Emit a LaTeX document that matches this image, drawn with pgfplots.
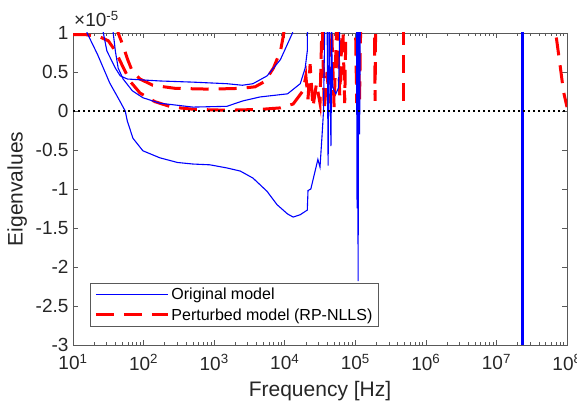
\documentclass[border=0pt]{standalone}
\usepackage{fontspec}
\setmainfont{Liberation Sans}
\usepackage{pgfplots}
\pgfplotsset{compat=1.18}
\definecolor{mblue}{rgb}{0,0,1}
\definecolor{mred}{rgb}{1,0,0}
\definecolor{axgray}{gray}{0.35}
\definecolor{txtgray}{gray}{0.15}
\begin{document}
\begin{tikzpicture}
\begin{axis}[name=ax, xmode=log, scale only axis, width=494pt, height=312pt,
  xmin=10, xmax=1e8, ymin=-3, ymax=1,
  xtick={10,100,1000,10000,100000,1000000,10000000,100000000},
  xticklabels={10\textsuperscript{1},10\textsuperscript{2},10\textsuperscript{3},10\textsuperscript{4},10\textsuperscript{5},10\textsuperscript{6},10\textsuperscript{7},10\textsuperscript{8}},
  minor xtick={20,30,40,50,60,70,80,90,200,300,400,500,600,700,800,900,2000,3000,4000,5000,6000,7000,8000,9000,20000,30000,40000,50000,60000,70000,80000,90000,200000,300000,400000,500000,600000,700000,800000,900000,2000000,3000000,4000000,5000000,6000000,7000000,8000000,9000000,20000000,30000000,40000000,50000000,60000000,70000000,80000000,90000000},
  ytick={-3,-2.5,-2,-1.5,-1,-0.5,0,0.5,1},
  yticklabels={-3,-2.5,-2,-1.5,-1,-0.5,0,0.5,1},
  tick align=inside, major tick length=5pt, minor tick length=3pt,
  axis line style={axgray, line width=0.8pt},
  every tick/.style={axgray, line width=0.7pt},
  tick label style={font=\fontsize{19}{22}\selectfont, text=txtgray},
  xticklabel style={yshift=-6pt},
  yticklabel style={xshift=-1pt},
  xlabel={Frequency [Hz]}, ylabel={Eigenvalues},
  label style={font=\fontsize{21}{25}\selectfont, text=txtgray},
  xlabel style={at={(axis description cs:0.5,-0.147)}, anchor=center},
  ylabel style={at={(axis description cs:-0.113,0.5)}, anchor=center},
  legend style={at={(axis description cs:0.0345,0.058)}, anchor=south west,
    draw=axgray, line width=0.8pt, fill=white, text=black,
    font=\fontsize{16}{19}\selectfont, inner xsep=4pt, inner ysep=3pt,
    row sep=3pt, cells={anchor=west}},
  legend image code/.code={\draw[#1] (0pt,0pt) -- (72pt,0pt);},
]
\addlegendimage{mblue, line width=1.1pt}
\addlegendentry{Original model}
\addlegendimage{mred, line width=3pt, dash pattern=on 18pt off 10pt}
\addlegendentry{Perturbed model (RP-NLLS)}

% ---------------- perturbed model (red dashed) ----------------
\addplot[mred, line width=3pt, dash pattern=on 18pt off 10pt, forget plot] coordinates {
(42,1.1)(43.65,1.0)(50.12,0.86)(58.88,0.67)(69.18,0.51)(89.13,0.41)(134.9,0.33)(281.8,0.29)(871,0.28)(2344,0.29)(3802,0.31)(5248,0.38)(6918,0.55)(8710,0.77)(9550,0.96)(10000,1.1)};
\addplot[mred, line width=3pt, dash pattern=on 18pt off 10pt, forget plot] coordinates {
(10,0.98)(14.79,0.98)(23.99,0.95)(31.62,0.90)(39.81,0.77)(50.12,0.58)(64.57,0.38)(89.13,0.23)(144.5,0.12)(251.2,0.05)(537,0.02)(1514,0.01)(4467,0.02)(8710,0.04)(13183,0.09)(18197,0.26)
(19953,0.45)(21380,0.15)(22909,0.6)(25119,0.05)(28184,0.35)(31623,0.1)(33884,1.2)(36308,0.0)(39811,0.5)(42658,0.1)(45709,1.2)(50119,0.05)(54954,1.2)(60256,0.2)(66069,1.2)(70795,0.1)(74131,1.2)};
\addplot[mred, line width=3pt, dash pattern=on 18pt off 10pt, forget plot] coordinates {
(100000,1.3)(104713,0.1)(109648,1.3)(114815,0.13)(120226,1.3)};
\addplot[mred, line width=3pt, dash pattern=on 18pt off 10pt, forget plot] coordinates {
(186209,1.3)(190546,0.13)(194984,1.3)};
\addplot[mred, line width=3pt, dash pattern=on 18pt off 10pt, forget plot] coordinates {
(478630,0.13)(478630,1.3)};
\addplot[mred, line width=3pt, dash pattern=on 18pt off 10pt, forget plot] coordinates {
(66070000,1.3)(69180000,1.0)(79430000,0.6)(89130000,0.25)(100000000,0.05)};

% ---------------- original model (blue) ----------------
\addplot[mblue, line width=1.1pt, forget plot] coordinates {
(14.13,1.3)(15.85,1.0)(22.39,0.72)(33.11,0.36)(44.67,0.15)(54.95,0.0)(58.88,-0.13)(70.8,-0.35)(97.72,-0.51)(169.8,-0.60)(302,-0.66)(501.2,-0.68)(871,-0.69)(1514,-0.73)(2344,-0.77)(3548,-0.86)(5623,-1.03)(7762,-1.2)(10965,-1.32)(13183,-1.36)(16596,-1.33)(20893,-1.27)
(21380,-1.02)(23442,-1.0)(29512,-0.62)(31623,-0.72)(33884,-0.30)(35481,0.0)(37154,1.3)(39811,1.3)(41210,-0.7)(42658,1.3)(45186,-0.45)(46774,1.3)};
\addplot[mblue, line width=1.1pt, forget plot] coordinates {
(26.0,1.1)(26.92,1.0)(30.2,0.77)(39.81,0.55)(46.77,0.45)(58.88,0.41)(169.8,0.385)(501.2,0.37)(1514,0.35)(2512,0.33)(3548,0.35)(5623,0.45)(8710,0.66)(12882,1.0)(13500,1.1)};
\addplot[mblue, line width=1.1pt, forget plot] coordinates {
(36.3,1.1)(37.15,1.0)(39.81,0.77)(43.65,0.55)(51.29,0.41)(69.18,0.26)(97.72,0.17)(169.8,0.10)(501.2,0.05)(1514,0.06)(2570,0.13)(4467,0.18)(10965,0.22)(16596,0.35)(19498,0.55)(20893,0.77)(21000,1.0)(21100,1.1)};
\addplot[mblue, line width=1.1pt, forget plot] coordinates {
(45000,1.3)(48000,0.3)(53000,0.22)(58000,0.3)(61000,1.3)};
\addplot[mblue, line width=1.1pt, forget plot] coordinates {
(104000,1.3)(106000,-1.25)(108000,1.3)(109648,-2.18)(111500,1.3)(115000,-0.3)(118000,1.3)};
\addplot[mblue, line width=3.5pt, forget plot] coordinates {
(23440000,-3.5)(23440000,1.5)};

% ---------------- zero line ----------------
\addplot[black, line width=2pt, dash pattern=on 2pt off 3pt, forget plot] coordinates {(10,0)(100000000,0)};
\end{axis}
\node[anchor=south west, inner sep=0pt, font=\fontsize{19}{22}\selectfont, text=txtgray] at ([xshift=1pt,yshift=6pt]ax.north west) {×10\textsuperscript{-5}};
\pgfresetboundingbox
\path[use as bounding box] ([xshift=-73pt,yshift=-61pt]ax.south west) rectangle ([xshift=10pt,yshift=33pt]ax.north east);
\end{tikzpicture}
\end{document}
